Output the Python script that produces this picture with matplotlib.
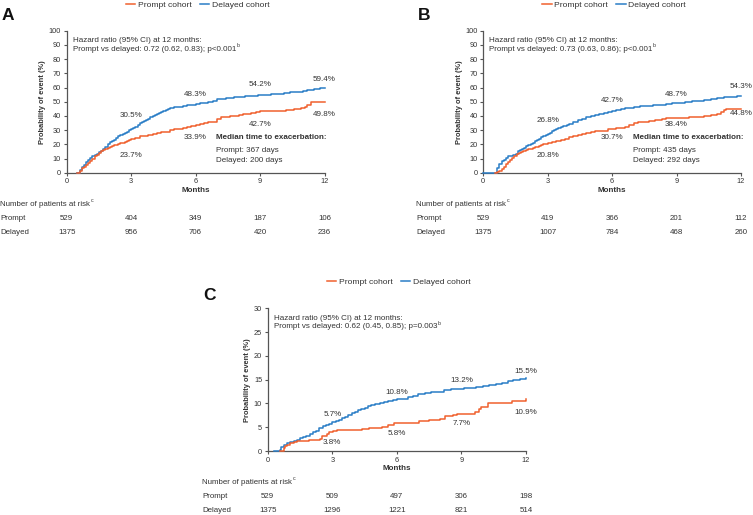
import matplotlib
matplotlib.use("Agg")
import matplotlib.pyplot as plt
import matplotlib.transforms as mtransforms

plt.rcParams['font.family'] = ['Liberation Sans', 'DejaVu Sans']

ORANGE = '#F0602E'
BLUE = '#2A7DC6'
TXT = '#333333'

# ---------------- data ----------------
month_ticks = [0, 3, 6, 9, 12]

# Panel A (cumulative probability of event, %)
a_delay_t = [0.5, 0.6, 0.7, 0.8, 0.9, 1.0, 1.1, 1.2, 1.3, 1.4, 1.5, 1.6, 1.7, 1.8, 1.9, 2.0, 2.1, 2.2, 2.3, 2.4,
             2.5, 2.6, 2.7, 2.8, 2.9, 3.0, 3.1, 3.2, 3.3, 3.4, 3.5, 3.6, 3.7, 3.8, 3.9, 4.0, 4.1, 4.2, 4.3, 4.4,
             4.5, 4.6, 4.7, 4.8, 4.9, 5.0, 5.2, 5.4, 5.6, 5.8, 6.0, 6.2, 6.4, 6.6, 6.8, 7.0, 7.2, 7.4, 7.6, 7.8,
             8.0, 8.3, 8.6, 8.9, 9.2, 9.5, 9.8, 10.1, 10.4, 10.7, 11.0, 11.2, 11.5, 11.8, 12.0]
a_delay_v = [0.0, 2.0, 4.0, 5.5, 7.2, 9.0, 10.5, 12.0, 12.8, 13.5, 14.5, 15.5, 16.8, 18.3, 20.0, 21.5, 22.3, 23.2,
             24.5, 25.5, 26.5, 27.3, 28.0, 29.0, 29.8, 30.5, 31.5, 32.5, 33.6, 34.8, 35.5, 36.2, 37.0, 38.0, 39.0,
             39.7, 40.5, 41.2, 42.0, 42.8, 43.5, 44.2, 44.8, 45.3, 45.8, 46.2, 46.6, 47.0, 47.5, 48.0, 48.3, 48.8,
             49.3, 50.0, 50.8, 51.6, 52.2, 52.5, 52.8, 53.2, 53.6, 54.0, 54.2, 54.5, 54.9, 55.2, 55.6, 56.0, 56.5,
             57.0, 57.8, 58.3, 58.9, 59.4, 59.8]
a_prompt_t = [0.5, 0.6, 0.7, 0.8, 0.9, 1.0, 1.1, 1.2, 1.3, 1.4, 1.5, 1.6, 1.7, 1.8, 1.9, 2.0, 2.1, 2.2, 2.3, 2.4,
              2.5, 2.6, 2.7, 2.8, 2.9, 3.0, 3.2, 3.4, 3.6, 3.8, 4.0, 4.2, 4.4, 4.6, 4.8, 5.0, 5.2, 5.4, 5.6, 5.8,
              6.0, 6.2, 6.4, 6.6, 6.8, 7.0, 7.2, 7.4, 7.6, 7.8, 8.0, 8.2, 8.4, 8.6, 8.8, 9.0, 9.4, 9.8, 10.2, 10.6,
              10.9, 11.1, 11.2, 11.35, 12.0]
a_prompt_v = [0.0, 1.5, 3.0, 4.2, 5.5, 7.0, 8.5, 10.0, 11.5, 12.8, 14.0, 15.0, 16.0, 17.0, 17.6, 18.2, 18.7, 19.2,
              19.8, 20.3, 20.9, 21.2, 21.5, 22.0, 23.2, 24.0, 24.7, 25.5, 26.0, 26.6, 27.2, 27.7, 28.4, 29.0, 30.2,
              30.8, 31.0, 31.4, 32.3, 33.0, 33.6, 34.3, 35.0, 35.4, 36.0, 37.8, 39.0, 39.5, 39.9, 40.2, 40.6, 41.0,
              41.4, 42.2, 43.0, 43.2, 43.4, 43.7, 44.1, 44.8, 45.3, 46.5, 47.6, 49.5, 49.6]

# Panel B
b_delay_t = [0.0, 0.55, 0.65, 0.75, 0.85, 0.95, 1.05, 1.15, 1.25, 1.4, 1.5, 1.6, 1.7, 1.8, 1.9, 2.0, 2.1, 2.2, 2.3,
             2.4, 2.5, 2.6, 2.7, 2.8, 2.9, 3.0, 3.1, 3.2, 3.3, 3.4, 3.5, 3.6, 3.7, 3.8, 3.9, 4.0, 4.2, 4.4, 4.6,
             4.8, 5.0, 5.2, 5.4, 5.6, 5.8, 6.0, 6.2, 6.4, 6.6, 6.8, 7.0, 7.3, 7.6, 7.9, 8.2, 8.5, 8.8, 9.1, 9.4,
             9.7, 10.0, 10.3, 10.6, 10.9, 11.2, 11.5, 11.8, 12.0]
b_delay_v = [0.0, 0.0, 3.0, 6.0, 8.0, 9.2, 10.5, 11.5, 12.0, 12.4, 13.5, 15.0, 15.8, 16.6, 17.5, 18.5, 19.5, 20.4,
             21.2, 22.2, 23.2, 24.0, 24.8, 25.8, 26.6, 27.5, 28.3, 29.2, 30.1, 31.0, 31.7, 32.2, 32.7, 33.2, 33.8,
             34.5, 35.5, 36.8, 37.8, 39.0, 40.0, 40.5, 41.2, 41.8, 42.6, 43.4, 44.0, 44.8, 45.4, 45.9, 46.6, 46.9,
             47.2, 47.5, 48.0, 48.6, 49.0, 49.4, 49.9, 50.4, 50.8, 51.3, 51.8, 52.4, 53.0, 53.4, 53.9, 54.3]
b_prompt_t = [0.55, 0.65, 0.75, 0.85, 0.95, 1.05, 1.15, 1.25, 1.35, 1.45, 1.55, 1.65, 1.75, 1.85, 2.0, 2.1, 2.2,
              2.3, 2.4, 2.5, 2.6, 2.7, 2.8, 2.9, 3.0, 3.2, 3.4, 3.6, 3.8, 4.0, 4.2, 4.4, 4.6, 4.8, 5.0, 5.2, 5.4,
              5.6, 5.8, 6.0, 6.2, 6.4, 6.6, 6.8, 7.0, 7.2, 7.4, 7.7, 8.0, 8.3, 8.5, 8.8, 9.2, 9.6, 10.0, 10.3, 10.6,
              10.9, 11.05, 11.2, 11.3, 12.0]
b_prompt_v = [0.0, 0.8, 1.5, 2.8, 4.3, 5.8, 7.4, 9.0, 10.5, 12.0, 13.2, 14.0, 14.8, 15.5, 16.0, 16.6, 17.0, 17.5,
              18.0, 18.4, 19.0, 19.5, 20.0, 20.5, 21.0, 21.5, 22.0, 23.0, 24.0, 25.0, 26.0, 26.6, 27.4, 28.2, 29.0,
              29.2, 29.4, 29.7, 30.5, 31.0, 31.6, 31.8, 32.3, 33.3, 34.8, 35.6, 36.0, 36.5, 37.0, 37.6, 38.4, 38.6,
              38.7, 39.0, 39.5, 39.9, 40.4, 41.5, 42.8, 44.0, 44.8, 44.8]

# Panel C
c_delay_t = [0.3, 0.55, 0.6, 0.75, 0.9, 1.05, 1.2, 1.35, 1.5, 1.65, 1.8, 1.95, 2.1, 2.25, 2.4, 2.55, 2.7, 2.85,
             3.0, 3.15, 3.3, 3.45, 3.6, 3.75, 3.9, 4.05, 4.2, 4.35, 4.5, 4.65, 4.8, 5.0, 5.2, 5.4, 5.6, 5.8, 6.0,
             6.25, 6.5, 6.75, 7.0, 7.3, 7.6, 7.9, 8.2, 8.5, 8.8, 9.1, 9.4, 9.7, 10.0, 10.3, 10.6, 10.9, 11.15,
             11.4, 11.7, 12.0]
c_delay_v = [0.0, 0.3, 0.9, 1.3, 1.6, 1.8, 2.1, 2.4, 2.7, 2.9, 3.2, 3.6, 3.9, 4.3, 4.9, 5.2, 5.5, 5.7, 6.0, 6.3,
             6.5, 6.9, 7.2, 7.6, 8.0, 8.3, 8.6, 8.9, 9.1, 9.4, 9.7, 9.9, 10.1, 10.3, 10.5, 10.7, 10.9, 11.0, 11.3,
             11.6, 12.0, 12.2, 12.3, 12.5, 12.8, 13.0, 13.1, 13.2, 13.3, 13.5, 13.6, 13.8, 14.0, 14.2, 14.7, 14.9,
             15.1, 15.3]
c_prompt_t = [0.55, 0.75, 0.8, 0.9, 1.05, 1.2, 1.35, 1.6, 1.9, 2.2, 2.45, 2.5, 2.75, 2.85, 3.05, 3.2, 4.1, 4.4,
              4.7, 5.0, 5.3, 5.6, 5.85, 6.9, 7.05, 7.5, 8.0, 8.25, 8.6, 8.8, 9.65, 9.8, 9.9, 10.25, 11.25, 11.35,
              11.95, 12.0]
c_prompt_v = [0.0, 0.6, 1.0, 1.3, 1.6, 1.8, 2.0, 2.2, 2.3, 2.4, 2.5, 3.2, 3.5, 3.9, 4.3, 4.4, 4.4, 4.6, 4.8, 4.9,
              5.1, 5.4, 5.8, 5.8, 6.3, 6.6, 6.8, 7.4, 7.6, 7.7, 8.3, 8.9, 9.3, 10.1, 10.1, 10.5, 10.5, 11.0]

# percentage labels at 3, 6, 9, 12 months
label_months = [3, 6, 9, 12]
a_delay_labels = ['30.5%', '48.3%', '54.2%', '59.4%']
a_prompt_labels = ['23.7%', '33.9%', '42.7%', '49.8%']
b_delay_labels = ['26.8%', '42.7%', '48.7%', '54.3%']
b_prompt_labels = ['20.8%', '30.7%', '38.4%', '44.8%']
c_delay_labels = ['5.7%', '10.8%', '13.2%', '15.5%']
c_prompt_labels = ['3.8%', '5.8%', '7.7%', '10.9%']

# label heights (data units)
a_delay_ly = [40.5, 55.4, 62.0, 65.8]
a_prompt_ly = [12.3, 25.0, 33.8, 41.0]
b_delay_ly = [37.0, 50.5, 55.4, 60.6]
b_prompt_ly = [12.3, 25.0, 33.8, 41.8]
c_delay_ly = [7.6, 12.3, 14.9, 16.7]
c_prompt_ly = [1.8, 3.7, 5.7, 8.0]

a_hr = 'Prompt vs delayed: 0.72 (0.62, 0.83); p<0.001'
b_hr = 'Prompt vs delayed: 0.73 (0.63, 0.86); p<0.001'
c_hr = 'Prompt vs delayed: 0.62 (0.45, 0.85); p=0.003'
a_median = ['Prompt: 367 days', 'Delayed: 200 days']
b_median = ['Prompt: 435 days', 'Delayed: 292 days']

a_risk_prompt = [529, 404, 349, 187, 106]
a_risk_delay = [1375, 956, 706, 420, 236]
b_risk_prompt = [529, 419, 366, 201, 112]
b_risk_delay = [1375, 1007, 784, 468, 260]
c_risk_prompt = [529, 509, 497, 306, 198]
c_risk_delay = [1375, 1296, 1221, 821, 514]

# ---------------- figure ----------------
W, H = 753, 515
fig = plt.figure(figsize=(W / 100, H / 100), dpi=100)


def add_ax(left, top, right, bottom):
    return fig.add_axes([left / W, 1 - bottom / H, (right - left) / W, (bottom - top) / H])


def sup(ax, artist, s):
    ax.annotate(s, xy=(1, 0.62), xycoords=artist, xytext=(0.3, 0), textcoords='offset points',
                fontsize=3.8, color=TXT, ha='left', va='bottom', annotation_clip=False)


def style(ax, ymax, ystep):
    ax.set_xlim(0, 12)
    ax.set_ylim(0, ymax)
    ax.set_xticks(month_ticks)
    ax.set_yticks(list(range(0, ymax + 1, ystep)))
    for s in ['top', 'right']:
        ax.spines[s].set_visible(False)
    for s in ['left', 'bottom']:
        ax.spines[s].set_color('#555555')
        ax.spines[s].set_linewidth(0.9)
    ax.tick_params(axis='both', length=2.5, width=0.8, color='#555555',
                   labelsize=5.3, labelcolor=TXT, pad=1.5)
    ax.set_xlabel('Months', fontsize=5.8, fontweight='bold', color=TXT, labelpad=1)
    ax.set_ylabel('Probability of event (%)', fontsize=5.4, fontweight='bold', color=TXT, labelpad=2)


def panel(ax, pt, pv, dt, dv, ymax, ystep, dlab, dly, plab, ply, hr, median,
          rp, rd, letter, letter_xy, legend_y, risk_top, risk_left):
    style(ax, ymax, ystep)
    ax.step(dt, dv, where='post', color=BLUE, lw=1.1, clip_on=False, zorder=3)
    ax.step(pt, pv, where='post', color=ORANGE, lw=1.1, clip_on=False, zorder=4)
    for m, s, y in zip(label_months, dlab, dly):
        ax.text(m, y, s, ha='center', va='center', fontsize=5.8, color=TXT)
    for m, s, y in zip(label_months, plab, ply):
        ax.text(m, y, s, ha='center', va='center', fontsize=5.8, color=TXT)
    ax.text(0.023, 0.932, 'Hazard ratio (95% CI) at 12 months:', transform=ax.transAxes,
            fontsize=5.8, color=TXT, va='center', ha='left')
    t = ax.text(0.023, 0.870, hr, transform=ax.transAxes,
                fontsize=5.8, color=TXT, va='center', ha='left')
    sup(ax, t, 'b')
    if median is not None:
        ax.text(6.96, 0.247 * ymax, 'Median time to exacerbation:', fontsize=5.8,
                fontweight='bold', color=TXT, va='center', ha='left')
        ax.text(6.96, 0.153 * ymax, median[0], fontsize=5.8, color=TXT, va='center', ha='left')
        ax.text(6.96, 0.085 * ymax, median[1], fontsize=5.8, color=TXT, va='center', ha='left')
    # legend
    pos = ax.get_position()
    h1, = ax.plot([], [], color=ORANGE, lw=1.1, label='Prompt cohort')
    h2, = ax.plot([], [], color=BLUE, lw=1.1, label='Delayed cohort')
    ax.legend(handles=[h1, h2], loc='center', ncol=2, frameon=False,
              bbox_to_anchor=(pos.x0 + pos.width / 2 + 2 / W, 1 - legend_y / H),
              bbox_transform=fig.transFigure, fontsize=6.1, handlelength=1.1,
              handletextpad=0.3, columnspacing=1.0, labelcolor=TXT,
              borderpad=0, borderaxespad=0)
    # panel letter
    fig.text(letter_xy[0] / W, 1 - letter_xy[1] / H, letter, fontsize=12.5,
             fontweight='bold', ha='left', va='center', color='#111111')
    # risk table
    rt = fig.text(risk_left / W, 1 - risk_top / H, 'Number of patients at risk',
                  fontsize=5.7, color=TXT, ha='left', va='center')
    sup(ax, rt, 'c')
    fig.text(risk_left / W, 1 - (risk_top + 14) / H, 'Prompt', fontsize=5.7, color=TXT,
             ha='left', va='center')
    fig.text(risk_left / W, 1 - (risk_top + 28) / H, 'Delayed', fontsize=5.7, color=TXT,
             ha='left', va='center')
    trans = mtransforms.blended_transform_factory(ax.transData, fig.transFigure)
    for m, a, b in zip(month_ticks, rp, rd):
        ax.text(m, 1 - (risk_top + 14) / H, str(a), transform=trans, fontsize=5.7,
                color=TXT, ha='center', va='center', clip_on=False)
        ax.text(m, 1 - (risk_top + 28) / H, str(b), transform=trans, fontsize=5.7,
                color=TXT, ha='center', va='center', clip_on=False)


axA = add_ax(66.7, 30.7, 324.5, 172.7)
axB = add_ax(483.3, 30.7, 741.0, 172.7)
axC = add_ax(267.7, 308.3, 526.0, 451.0)

panel(axA, a_prompt_t, a_prompt_v, a_delay_t, a_delay_v, 100, 10,
      a_delay_labels, a_delay_ly, a_prompt_labels, a_prompt_ly, a_hr, a_median,
      a_risk_prompt, a_risk_delay, 'A', (2, 16), 5, 204, 0.5)
panel(axB, b_prompt_t, b_prompt_v, b_delay_t, b_delay_v, 100, 10,
      b_delay_labels, b_delay_ly, b_prompt_labels, b_prompt_ly, b_hr, b_median,
      b_risk_prompt, b_risk_delay, 'B', (418, 16), 5, 204, 416.5)
panel(axC, c_prompt_t, c_prompt_v, c_delay_t, c_delay_v, 30, 5,
      c_delay_labels, c_delay_ly, c_prompt_labels, c_prompt_ly, c_hr, None,
      c_risk_prompt, c_risk_delay, 'C', (203, 295), 282, 482, 202)

fig.savefig('out.png', dpi=100)
